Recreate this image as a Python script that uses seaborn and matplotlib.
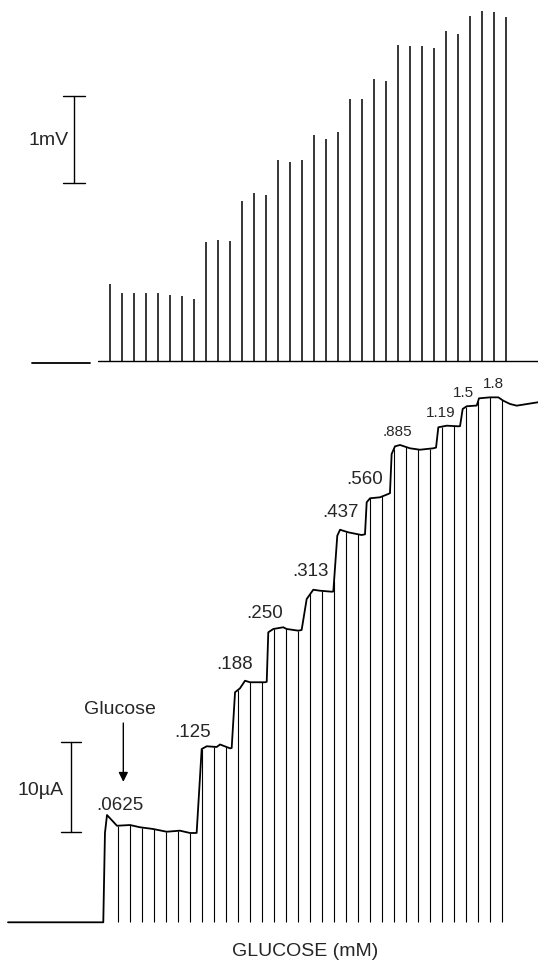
import numpy as np
import matplotlib
matplotlib.use('Agg')
import matplotlib.pyplot as plt
import seaborn as sns

# Data (time in minutes, one stimulus per minute)
# top trace: spike amplitude (mV) at each stimulus
spike_t = [0, 1, 2, 3, 4, 5, 6, 7, 8, 9, 10, 11, 12, 13, 14, 15, 16,
           17, 18, 19, 20, 21, 22, 23, 24, 25, 26, 27, 28, 29, 30, 31, 32, 33]
spike_mv = [0.89, 0.79, 0.785, 0.79, 0.78, 0.76, 0.75, 0.715,
            1.375, 1.39, 1.38,
            1.84, 1.94, 1.91,
            2.31, 2.295, 2.315,
            2.60, 2.55, 2.635,
            3.015, 3.02,
            3.245, 3.22,
            3.64, 3.62, 3.62, 3.60,
            3.80, 3.76,
            3.97, 4.025, 4.02, 3.955]

# bottom trace: current (uA) recorded through the glucose additions
trace_t = [-8.5, -0.56, -0.42, -0.25, 0.58, 1.67, 2.5, 3.58, 4.72, 5.83, 6.67,
           7.08, 7.22, 7.64, 8.06, 8.89, 9.17, 10.0, 10.14, 10.42, 10.83, 11.25,
           11.67, 12.92, 13.06, 13.19, 13.61, 14.44, 14.72, 15.69, 15.97, 16.39,
           16.94, 17.5, 18.47, 18.61, 18.94, 19.17, 19.86, 20.97, 21.25, 21.39,
           21.67, 22.5, 23.19, 23.33, 23.47, 23.75, 24.17, 25.0, 25.83, 26.94,
           27.17, 27.36, 28.06, 29.03, 29.17, 29.39, 29.72, 30.42, 30.56, 30.75,
           31.67, 32.36, 32.78, 33.33, 33.89, 35.67]
trace_ua = [0, 0, 10.0, 12.0, 10.8, 10.88, 10.63, 10.44, 10.13, 10.25, 9.99,
            9.99, 10.0, 19.38, 19.69, 19.61, 19.89, 19.46, 19.5, 25.73, 26.17, 27.02,
            26.85, 26.85, 26.9, 32.44, 32.81, 33.0, 32.81, 32.62, 32.7, 36.16,
            37.2, 37.09, 36.98, 37.0, 43.24, 43.91, 43.62, 43.32, 43.4, 46.98,
            47.43, 47.54, 47.91, 48.0, 52.38, 53.24, 53.39, 53.02, 52.86, 53.02,
            53.1, 55.37, 55.55, 55.48, 55.5, 57.42, 57.72, 57.79, 57.8, 58.61,
            58.72, 58.72, 58.34, 57.98, 57.79, 58.17]

# times of the stimulus artefacts on the current trace
pulse_t = [0.67, 1.67, 2.67, 3.67, 4.67, 5.67, 6.67, 7.67, 8.67, 9.67, 10.67,
           11.67, 12.67, 13.67, 14.67, 15.67, 16.67, 17.67, 18.67, 19.67, 20.67,
           21.67, 22.67, 23.67, 24.67, 25.67, 26.67, 27.67, 28.67, 29.67, 30.67,
           31.67, 32.67]

conc_labels = ['.0625', '.125', '.188', '.250', '.313', '.437', '.560',
               '.885', '1.19', '1.5', '1.8']

sns.set_style('white')
plt.rcParams['font.family'] = ['Liberation Sans', 'DejaVu Sans']

fig = plt.figure(figsize=(5.38, 9.62), dpi=100)
ax1 = fig.add_axes([0, 1 - 380 / 962, 1, 380 / 962])
ax2 = fig.add_axes([0, 0, 1, 582 / 962])

xlim = (-110 / 12, 428 / 12)

# ---- top panel: voltage spikes
ax1.plot([-6.5, -1.67], [-0.02, -0.02], color='black', lw=1.3)
ax1.plot([-1.0, xlim[1]], [0, 0], color='black', lw=1.0)
ax1.vlines(spike_t, 0, spike_mv, color='black', lw=1.1)
# 1 mV scale bar
ax1.plot([-3.0, -3.0], [2.05, 3.05], color='black', lw=1.0)
ax1.plot([-3.9, -2.1], [3.05, 3.05], color='black', lw=1.0)
ax1.plot([-3.9, -2.1], [2.05, 2.05], color='black', lw=1.0)
ax1.text(-3.45, 2.55, '1mV', ha='right', va='center', fontsize=14)
ax1.set_xlim(xlim)
ax1.set_ylim((362.3 - 380) / 87, 362.3 / 87)
ax1.axis('off')

# ---- bottom panel: current staircase
sns.lineplot(x=trace_t, y=trace_ua, ax=ax2, color='black', lw=1.3,
             estimator=None, sort=False)
tops = np.interp(pulse_t, trace_t, trace_ua)
ax2.vlines(pulse_t, 0, tops, color='black', lw=0.8)

# 10 uA scale bar
ax2.plot([-3.25, -3.25], [10.13, 20.13], color='black', lw=1.0)
ax2.plot([-4.05, -2.4], [20.13, 20.13], color='black', lw=1.0)
ax2.plot([-4.05, -2.4], [10.13, 10.13], color='black', lw=1.0)
ax2.text(-3.85, 14.9, '10µA', ha='right', va='center', fontsize=14)

# glucose arrow
ax2.text(0.83, 23.9, 'Glucose', ha='center', va='center', fontsize=14)
ax2.annotate('', xy=(1.11, 15.4), xytext=(1.11, 22.6),
             arrowprops=dict(arrowstyle='-|>', color='black', lw=1.0,
                             mutation_scale=14))

label_xy = [(0.83, 13.2), (6.92, 21.3), (10.42, 28.9), (12.92, 34.7),
            (16.67, 39.4), (19.17, 45.9), (21.25, 49.6), (23.92, 54.9),
            (27.58, 57.05), (29.42, 59.3), (31.92, 60.3)]
for lab, (x, y) in zip(conc_labels, label_xy):
    fs = 11 if lab in ('.885', '1.19', '1.5', '1.8') else 13.5
    ax2.text(x, y, lab, ha='center', va='center', fontsize=fs, clip_on=False)

ax2.text(16.25, -3.2, 'GLUCOSE (mM)', ha='center', va='center', fontsize=14)
ax2.set_xlim(xlim)
ax2.set_ylim((923.3 - 962) / 8.94, (923.3 - 380) / 8.94)
ax2.axis('off')

fig.savefig('out.png', dpi=100)
